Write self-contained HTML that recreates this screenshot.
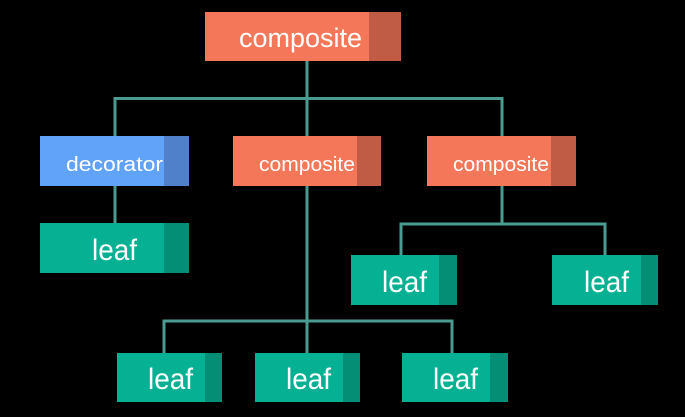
<!DOCTYPE html>
<html><head><meta charset="utf-8"><style>
html,body{margin:0;padding:0;background:#000;}
svg{display:block;}
text{font-family:"Liberation Sans",sans-serif;fill:#fff;}
</style></head><body>
<svg width="685" height="417" viewBox="0 0 685 417" xmlns="http://www.w3.org/2000/svg">
<rect width="685" height="417" fill="#000"/>
<g stroke="#4a9b90" stroke-width="3" fill="none">
<line x1="307" y1="61" x2="307" y2="136"/>
<polyline points="115,136 115,98.5 502,98.5 502,136"/>
<line x1="115" y1="186" x2="115" y2="223"/>
<line x1="307" y1="186" x2="307" y2="353"/>
<polyline points="164,353 164,321 452,321 452,353"/>
<line x1="502" y1="186" x2="502" y2="224"/>
<polyline points="401,255 401,224 605,224 605,255"/>
</g>
<!-- top composite -->
<rect x="205" y="12" width="196" height="49" fill="#f4775a"/>
<rect x="369" y="12" width="32" height="49" fill="#c05c45"/>
<text x="239" y="47" font-size="27" textLength="123" lengthAdjust="spacingAndGlyphs">composite</text>
<!-- decorator -->
<rect x="40" y="136" width="149" height="50" fill="#62a3fa"/>
<rect x="164" y="136" width="25" height="50" fill="#4f80c9"/>
<text x="66" y="171" font-size="20" textLength="97" lengthAdjust="spacingAndGlyphs">decorator</text>
<!-- composite 2 -->
<rect x="233" y="136" width="148" height="50" fill="#f4775a"/>
<rect x="357" y="136" width="24" height="50" fill="#c05c45"/>
<text x="259" y="171" font-size="20" textLength="96" lengthAdjust="spacingAndGlyphs">composite</text>
<!-- composite 3 -->
<rect x="427" y="136" width="149" height="50" fill="#f4775a"/>
<rect x="551" y="136" width="25" height="50" fill="#c05c45"/>
<text x="453" y="171" font-size="20" textLength="96" lengthAdjust="spacingAndGlyphs">composite</text>
<!-- leaves -->
<g>
<rect x="40" y="223" width="149" height="50" fill="#05b192"/>
<rect x="164" y="223" width="25" height="50" fill="#038e75"/>
<text x="92" y="260" font-size="30" textLength="45" lengthAdjust="spacingAndGlyphs">leaf</text>

<rect x="351" y="255" width="106" height="50" fill="#05b192"/>
<rect x="439" y="255" width="18" height="50" fill="#038e75"/>
<text x="382" y="292" font-size="30" textLength="45" lengthAdjust="spacingAndGlyphs">leaf</text>

<rect x="552" y="255" width="106" height="50" fill="#05b192"/>
<rect x="641" y="255" width="17" height="50" fill="#038e75"/>
<text x="584" y="292" font-size="30" textLength="45" lengthAdjust="spacingAndGlyphs">leaf</text>

<rect x="117" y="353" width="105" height="49" fill="#05b192"/>
<rect x="205" y="353" width="17" height="49" fill="#038e75"/>
<text x="148" y="389" font-size="30" textLength="45" lengthAdjust="spacingAndGlyphs">leaf</text>

<rect x="255" y="353" width="105" height="49" fill="#05b192"/>
<rect x="343" y="353" width="17" height="49" fill="#038e75"/>
<text x="286" y="389" font-size="30" textLength="45" lengthAdjust="spacingAndGlyphs">leaf</text>

<rect x="402" y="353" width="106" height="49" fill="#05b192"/>
<rect x="490" y="353" width="18" height="49" fill="#038e75"/>
<text x="433" y="389" font-size="30" textLength="45" lengthAdjust="spacingAndGlyphs">leaf</text>
</g>
</svg>
</body></html>
